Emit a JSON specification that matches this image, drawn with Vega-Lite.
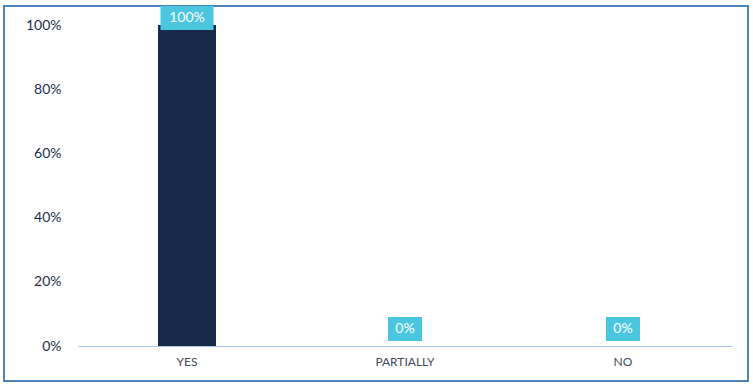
{
  "$schema": "https://vega.github.io/schema/vega-lite/v6.json",
  "width": 744,
  "height": 375,
  "autosize": {"type": "none"},
  "padding": {"left": 4, "top": 6, "right": 5, "bottom": 4},
  "background": "white",
  "config": {
    "view": {"stroke": "#4f81bd", "strokeWidth": 2},
    "font": "Lato"
  },
  "data": {
    "values": [
      {"answer": "YES", "share": 1.0, "label": "100%"},
      {"answer": "PARTIALLY", "share": 0.0, "label": "0%"},
      {"answer": "NO", "share": 0.0, "label": "0%"}
    ]
  },
  "encoding": {
    "x": {
      "field": "answer",
      "type": "nominal",
      "sort": null,
      "scale": {"range": [74, 728], "paddingInner": 0.734, "paddingOuter": 0.367},
      "axis": {
        "title": null,
        "offset": -35,
        "domainColor": "#a9c4e4",
        "domainWidth": 1,
        "ticks": false,
        "labelPadding": 10,
        "labelAngle": 0,
        "labelFontSize": 12,
        "labelColor": "#3f4a5c",
        "labelFont": "Lato"
      }
    },
    "y": {
      "field": "share",
      "type": "quantitative",
      "scale": {"domain": [0, 1], "range": [340, 19], "nice": false},
      "axis": {
        "title": null,
        "offset": -58,
        "domain": false,
        "ticks": false,
        "grid": false,
        "labelPadding": 1,
        "values": [0, 0.2, 0.4, 0.6, 0.8, 1],
        "format": ".0%",
        "labelFontSize": 14,
        "labelColor": "#1f2d4a"
      }
    }
  },
  "layer": [
    {"mark": {"type": "bar", "color": "#162a4a"}},
    {
      "transform": [{"filter": "datum.share > 0"}],
      "mark": {"type": "tick", "color": "#4bc6df", "size": 53, "thickness": 24, "opacity": 1, "yOffset": -7}
    },
    {
      "transform": [{"filter": "datum.share == 0"}],
      "mark": {"type": "tick", "color": "#4bc6df", "size": 34, "thickness": 24, "opacity": 1, "yOffset": -17}
    },
    {
      "transform": [{"filter": "datum.share > 0"}],
      "mark": {"type": "text", "color": "white", "fontSize": 14, "baseline": "middle", "yOffset": -7},
      "encoding": {"text": {"field": "label"}}
    },
    {
      "transform": [{"filter": "datum.share == 0"}],
      "mark": {"type": "text", "color": "white", "fontSize": 14, "baseline": "middle", "yOffset": -17},
      "encoding": {"text": {"field": "label"}}
    }
  ]
}
